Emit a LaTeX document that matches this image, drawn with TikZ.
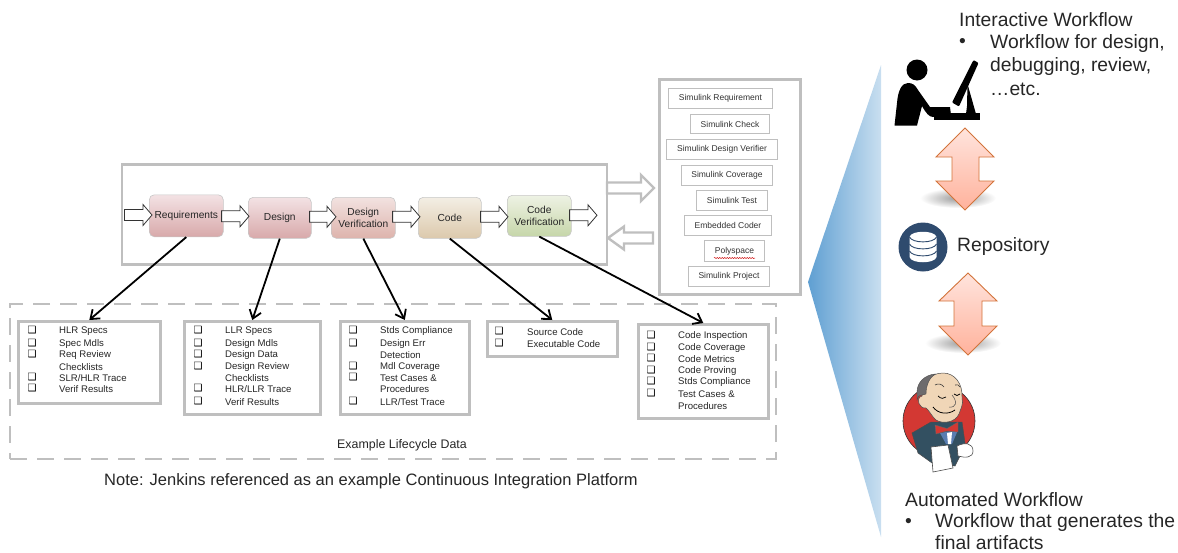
\documentclass[tikz,border=0pt]{standalone}
\usepackage{fontspec}
\setmainfont{Liberation Sans}
\newfontfamily\djv{DejaVu Sans}
\usetikzlibrary{arrows.meta,decorations.pathmorphing,calc}
\definecolor{frame}{HTML}{BFBFBF}
\definecolor{inktext}{HTML}{262626}
\definecolor{dbblue}{HTML}{2F4B6E}
\definecolor{jred}{HTML}{D33833}
\definecolor{jcoat}{HTML}{335061}
\definecolor{jskin}{HTML}{F0D6B7}
\definecolor{jhair}{HTML}{6D6B6D}
\definecolor{wedgeL}{HTML}{5F9FD2}
\definecolor{wedgeR}{HTML}{C9DFF0}
\definecolor{reqT}{HTML}{F3E2E4}\definecolor{reqB}{HTML}{D8A9AA}
\definecolor{dvT}{HTML}{F2E2E0}\definecolor{dvB}{HTML}{DDB3AC}
\definecolor{codeT}{HTML}{F3EEE4}\definecolor{codeB}{HTML}{DCC9AC}
\definecolor{cvT}{HTML}{EEF2E4}\definecolor{cvB}{HTML}{C6D6A9}
\definecolor{dblT}{HTML}{FFE4DD}\definecolor{dblB}{HTML}{FFB29C}
\definecolor{dblS}{HTML}{D2733A}
\newcounter{rw}
\newcommand{\listrow}[4]{\stepcounter{rw}%
  \node[chk] (chk\therw) at (#1,#3) {❑};
  \node[rowtext] (txt\therw) at (#2,#3) {#4};}
\newcommand{\controw}[3]{\stepcounter{rw}%
  \node[rowtext] (txt\therw) at (#1,#2) {#3};}
% style, from, to, half shaft, half head, head length (horizontal block arrow)
\newcommand{\blockarrow}[6]{%
  \draw[#1] let \p1=(#2),\p2=(#3),\n1={ifthenelse(\x2>\x1,1,-1)} in
    (\x1,{\y1+#4pt}) -- ({\x2-\n1*#6pt},{\y1+#4pt}) -- ({\x2-\n1*#6pt},{\y1+#5pt}) -- (\x2,\y1)
    -- ({\x2-\n1*#6pt},{\y1-#5pt}) -- ({\x2-\n1*#6pt},{\y1-#4pt}) -- (\x1,{\y1-#4pt}) -- cycle;}
\tikzset{
  x=1pt,y=-1pt,
  every node/.style={font=\fontsize{10}{12}\selectfont,text=inktext,inner sep=0pt},
  stage/.style 2 args={rounded corners=5pt,draw=black!22,line width=.6pt,anchor=north west,align=center,top color=#1,bottom color=#2,font=\fontsize{10.2}{12.5}\selectfont},
  hollow/.style={draw=black!80,fill=white,line width=.8pt,line join=miter},
  sidearrow/.style={draw=frame,fill=white,line width=2.4pt},
  panel/.style={draw=frame,line width=2.6pt,fill=none},
  toolbox/.style={draw=frame,line width=1pt,fill=white,font=\fontsize{8.5}{10}\selectfont,anchor=north west,text=black!80},
  databox/.style={draw=frame,line width=2.6pt,anchor=north west,fill=white},
  chk/.style={font=\djv\fontsize{10}{10}\selectfont,text=black},
  rowtext/.style={anchor=west,font=\fontsize{9.6}{11}\selectfont,yshift=-1pt},
  link/.style={draw=black,line width=1.8pt,-{Straight Barb[length=8pt,width=12pt,line width=1.8pt]}},
  big/.style={font=\fontsize{19.3}{23}\selectfont,anchor=west,text=inktext},
  dbl/.style={draw=dblS,line width=.9pt,top color=dblT,bottom color=dblB},
}
\begin{document}
\begin{tikzpicture}
\useasboundingbox (0,0) rectangle (1178,552);
% main frame
\node[panel,minimum width=485pt,minimum height=100pt,anchor=north west] (mainframe) at (120.5,163) {};
% stages
\node[stage={reqT}{reqB},minimum width=74pt,minimum height=42pt] (req) at (149,194.5) {Requirements};
\node[stage={reqT}{reqB},minimum width=63pt,minimum height=41pt] (des) at (248,197) {Design};
\node[stage={dvT}{dvB},minimum width=64pt,minimum height=41pt] (dv) at (331,197) {Design\\Verification};
\node[stage={codeT}{codeB},minimum width=63pt,minimum height=41pt] (code) at (418,197) {Code};
\node[stage={cvT}{cvB},minimum width=64pt,minimum height=41pt] (cv) at (507,195) {Code\\Verification};
% hollow arrows
\coordinate (flowin) at (124.5,215);
\coordinate (flowout) at (597,215);
\blockarrow{hollow}{flowin}{$(req.west)+(3,0)$}{5.5}{10.5}{9}
\blockarrow{hollow}{$(req.east)+(-2,0.5)$}{$(des.west)+(1,0)$}{5.5}{10.5}{9}
\blockarrow{hollow}{$(des.east)+(-2,-1)$}{$(dv.west)+(5,0)$}{5.5}{10.5}{9}
\blockarrow{hollow}{$(dv.east)+(-3,-1)$}{$(code.west)+(2,0)$}{5.5}{10.5}{9}
\blockarrow{hollow}{$(code.east)+(-1,-1)$}{$(cv.west)+(1,0)$}{5.5}{10.5}{9}
\blockarrow{hollow}{$(cv.east)+(-2,-0.5)$}{flowout}{5.5}{10.5}{9}
% side arrows
\coordinate (sa1s) at (607,188);\coordinate (sa1e) at (654,188);
\coordinate (sa2s) at (653,238);\coordinate (sa2e) at (608,238);
\blockarrow{sidearrow}{sa1s}{sa1e}{5.5}{13}{13}
\blockarrow{sidearrow}{sa2s}{sa2e}{5.5}{11.5}{16}
% tools panel
\node[panel,minimum width=141pt,minimum height=215pt,anchor=north west] (toolpanel) at (658,78) {};
\node[toolbox,minimum width=104pt,minimum height=20pt] (t1) at (668,88) {\raisebox{-1pt}{Simulink Requirement}};
\node[toolbox,minimum width=79pt,minimum height=19pt] (t2) at (690,114) {\raisebox{-1pt}{Simulink Check}};
\node[toolbox,minimum width=111pt,minimum height=20pt] (t3) at (666,139) {\raisebox{-1pt}{Simulink Design Verifier}};
\node[toolbox,minimum width=91pt,minimum height=20pt] (t4) at (681,165) {\raisebox{-1pt}{Simulink Coverage}};
\node[toolbox,minimum width=71pt,minimum height=20pt] (t5) at (696,190) {\raisebox{-1pt}{Simulink Test}};
\node[toolbox,minimum width=87pt,minimum height=20pt] (t6) at (684,215) {\raisebox{-1pt}{Embedded Coder}};
\node[toolbox,minimum width=60pt,minimum height=21pt] (t7) at (704,240) {\raisebox{-1pt}{Polyspace}};
\node[toolbox,minimum width=81pt,minimum height=20pt] (t8) at (688,266) {\raisebox{-1pt}{Simulink Project}};
\draw[red!80!black,line width=.5pt,decorate,decoration={snake,amplitude=.5pt,segment length=2.5pt}] (714,258) -- (755,258);
% lifecycle frame
\node[draw=frame,line width=2.4pt,dash pattern=on 17pt off 10pt,minimum width=766pt,minimum height=155pt,anchor=north west] (lifeframe) at (9,303) {};
\node[font=\fontsize{12.4}{14}\selectfont] (lifelabel) at (402,445) {Example Lifecycle Data};
% data boxes
\node[databox,minimum width=142pt,minimum height=82pt] (b1) at (17,320) {};
\node[databox,minimum width=136pt,minimum height=93pt] (b2) at (183,320) {};
\node[databox,minimum width=129pt,minimum height=93pt] (b3) at (339,320) {};
\node[databox,minimum width=130pt,minimum height=35pt] (b4) at (486,320) {};
\node[databox,minimum width=130pt,minimum height=94pt] (b5) at (637,323) {};
\listrow{32}{59}{330}{HLR Specs}
\listrow{32}{59}{343}{Spec Mdls}
\listrow{32}{59}{354}{Req Review}
\controw{59}{366}{Checklists}
\listrow{32}{59}{377}{SLR/HLR Trace}
\listrow{32}{59}{388}{Verif Results}
\listrow{198}{225}{330}{LLR Specs}
\listrow{198}{225}{343}{Design Mdls}
\listrow{198}{225}{354}{Design Data}
\listrow{198}{225}{366}{Design Review}
\controw{225}{377}{Checklists}
\listrow{198}{225}{388}{HLR/LLR Trace}
\listrow{198}{225}{401}{Verif Results}
\listrow{353}{380}{330}{Stds Compliance}
\listrow{353}{380}{343}{Design Err}
\controw{380}{354}{Detection}
\listrow{353}{380}{366}{Mdl Coverage}
\listrow{353}{380}{377}{Test Cases \&}
\controw{380}{388}{Procedures}
\listrow{353}{380}{401}{LLR/Test Trace}
\listrow{499}{527}{331}{Source Code}
\listrow{499}{527}{343}{Executable Code}
\listrow{651}{678}{335}{Code Inspection}
\listrow{651}{678}{347}{Code Coverage}
\listrow{651}{678}{358}{Code Metrics}
\listrow{651}{678}{370}{Code Proving}
\listrow{651}{678}{381}{Stds Compliance}
\listrow{651}{678}{393}{Test Cases \&}
\controw{678}{405}{Procedures}
% connectors
\draw[link] (req.south) -- (b1.north);
\draw[link] (des.south) -- (b2.north);
\draw[link] (dv.south) -- (b3.north);
\draw[link] (code.south) -- (b4.north);
\draw[link] (cv.south) -- (b5.north);
% note
\node[anchor=west,font=\fontsize{16.5}{19}\selectfont] (note) at (104,481.5) {Note: Jenkins referenced as an example Continuous Integration Platform};
% gradient wedge
\shade[left color=wedgeL,right color=wedgeR] (808,282) -- (881,65) -- (881,537) -- cycle;
% person icon
\fill[black] (917,70) circle (10.5);
\fill[black] (894.5,125.5) -- (897,103) .. controls (898,90) and (902,83) .. (908,83) .. controls (913,83) and (915,85) .. (918,90) -- (930,107) -- (950,107) -- (951,115) -- (933,117) .. controls (929,117) and (926,113) .. (922,106) -- (917,125.5) -- cycle;
\fill[black] (934,112.5) rectangle (980,119.5);
\fill[black,rounded corners=1pt] (973.5,60) -- (978.5,63) -- (959,106.5) -- (952,102.5) -- cycle;
\fill[black] (967.5,84) -- (976,114) -- (966,114) -- (967,106) -- cycle;
% shadows
\shade[inner color=black!40,outer color=white] (958,198) ellipse (38 and 10);
\shade[inner color=black!40,outer color=white] (963,343) ellipse (38 and 10);
% double arrows
\draw[dbl] (965,128) -- (994,157) -- (979,157) -- (979,181) -- (994,181) -- (965,210) -- (936,181) -- (952,181) -- (952,157) -- (936,157) -- cycle;
\draw[dbl] (968,273) -- (997,301) -- (982,301) -- (982,326) -- (997,326) -- (968,355) -- (939,326) -- (954,326) -- (954,301) -- (939,301) -- cycle;
% repository icon
\fill[dbblue] (923,247) circle (24.5);
\fill[white] (909.5,237) .. controls (911,230) and (935,230) .. (936.5,237) -- (936.5,257) .. controls (935,264) and (911,264) .. (909.5,257) -- cycle;
\foreach \yy in {237,244,251}{
  \draw[dbblue,line width=.9pt] (909.5,\yy) .. controls (912,{\yy+6.5}) and (934,{\yy+6.5}) .. (936.5,\yy);
}
\node[big] (repo) at (957,246.5) {Repository};
% jenkins
\fill[jred,draw=black!80,line width=.6pt] (939,421) circle (36);
\fill[jcoat,draw=black!70,line width=.5pt] (912,433) -- (931,422) -- (962,422) -- (965,443) -- (960,456) -- (955,466) -- (932,463) -- (918,453) -- cycle;
\fill[jskin,draw=black!70,line width=.5pt] (925,385) .. controls (928,376) and (936,373) .. (943,373) .. controls (955,373) and (963,384) .. (962,398) .. controls (964,404) and (960,410) .. (959,414) .. controls (955,423) and (942,424) .. (936,420) .. controls (930,414) and (929,410) .. (926,408) .. controls (919,409) and (915,398) .. (922,396) -- cycle;
\fill[jhair,draw=black!70,line width=.4pt] (917,392) .. controls (917,382) and (925,375) .. (935,374) .. controls (929,378) and (926,386) .. (926,394) -- (922,395) .. controls (920,395) and (918,396) .. (917,400) -- cycle;
\draw[black!80,line width=.6pt] (935,385) .. controls (938,383) and (942,384) .. (944,387);
\draw[black!80,line width=.6pt] (955,385) .. controls (957,384) and (959,385) .. (960,387);
\draw[black,line width=.7pt] (938,396) .. controls (941,399) and (944,399) .. (946,397);
\draw[black,line width=.7pt] (954,394) .. controls (956,396) and (958,396) .. (960,394);
\draw[black!70,line width=.5pt] (952,395) .. controls (958,402) and (956,408) .. (949,407);
\draw[black,line width=.8pt] (933,407) .. controls (938,414) and (948,415) .. (955,410);
\fill[cyan!50!blue!60!gray] (940,433) -- (958,430) -- (952,444) -- (946,444) -- cycle;
\fill[white] (947,433) -- (952,432) -- (951,444) -- (948,444) -- cycle;
\fill[jred,draw=black!60,line width=.4pt] (935,425) -- (947,428.5) -- (958,422) -- (958,432) -- (947,431) -- (936,434) -- cycle;
\fill[white,draw=black!70,line width=.6pt] (931,447) -- (948,445) -- (953,468) -- (933,472) -- cycle;
\fill[white,draw=black!70,line width=.6pt] (957,446) .. controls (965,442) and (973,443) .. (973,451) .. controls (973,458) and (965,458) .. (958,456) -- cycle;
% right-hand text
\node[big] (iw) at (959,20) {Interactive Workflow};
\node[big] (ib) at (959,42.5) {•};
\node[big] (i1) at (990,43.5) {Workflow for design,};
\node[big] (i2) at (990,66.5) {debugging, review,};
\node[big] (i3) at (990,89.5) {…etc.};
\node[big] (aw) at (905,499.5) {Automated Workflow};
\node[big] (ab) at (905,522.5) {•};
\node[big] (a1) at (935,523) {Workflow that generates the};
\node[big] (a2) at (935,542.5) {final artifacts};
\end{tikzpicture}
\end{document}
